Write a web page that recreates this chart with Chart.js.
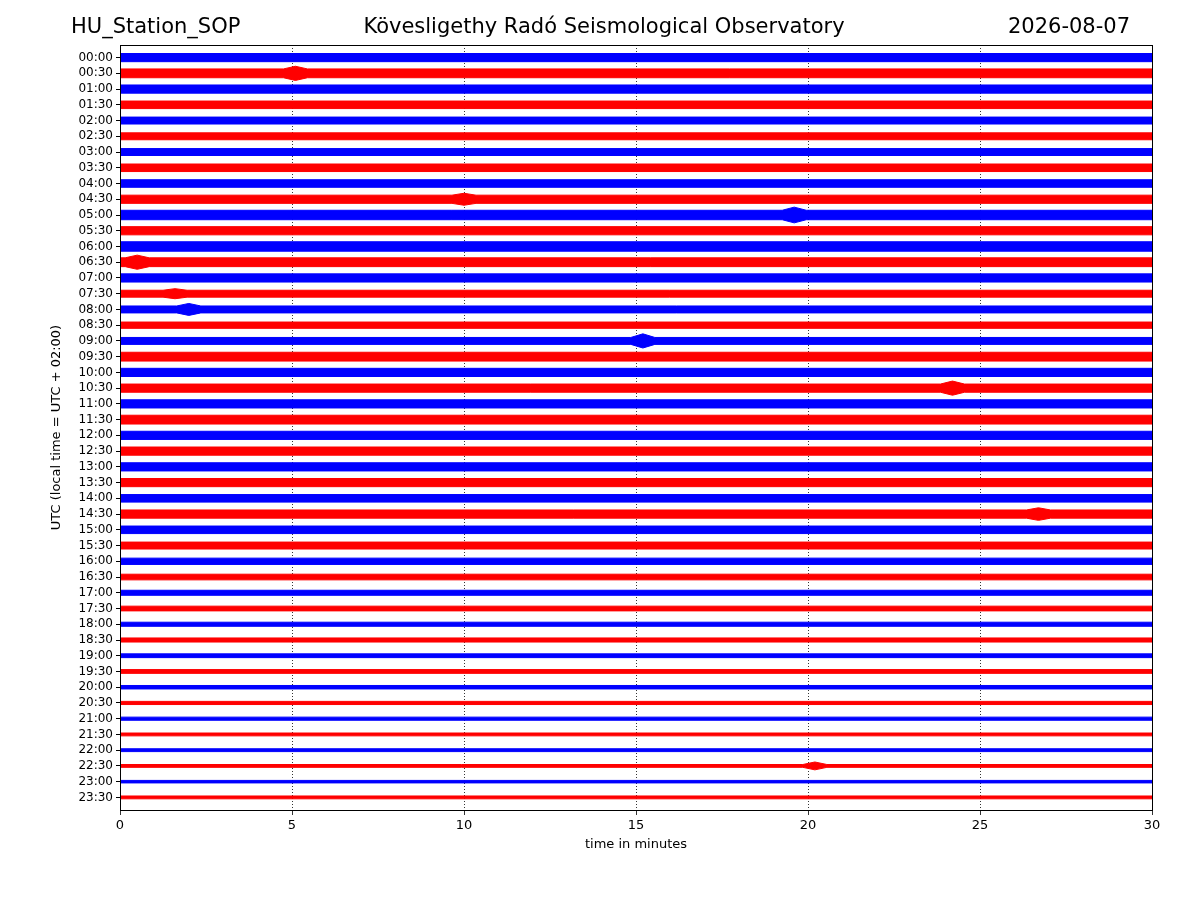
<!DOCTYPE html>
<html>
<head>
<meta charset="utf-8">
<script src="https://cdn.jsdelivr.net/npm/chart.js@4"></script>
<style>body{margin:0;background:#fff}</style>
</head>
<body>
<canvas id="heli" width="1200" height="900"></canvas>
<script>
// half-hour trace labels (UTC)
const traceLabels = [];
for (let h = 0; h < 24; h++) {
    const hh = String(h).padStart(2, '0');
    traceLabels.push(hh + ':00', hh + ':30');
}
// background noise amplitude per trace, in row units
const traceAmps = [
    0.26, 0.28, 0.26, 0.24, 0.22, 0.22, 0.22, 0.24,
    0.24, 0.26, 0.30, 0.26, 0.30, 0.28, 0.26, 0.22,
    0.22, 0.20, 0.22, 0.28, 0.26, 0.26, 0.26, 0.28,
    0.26, 0.26, 0.26, 0.26, 0.24, 0.26, 0.24, 0.22,
    0.20, 0.18, 0.16, 0.15, 0.13, 0.13, 0.12, 0.12,
    0.11, 0.10, 0.10, 0.09, 0.09, 0.09, 0.08, 0.09
];
// local bursts: trace index, minute, amplitude
const burstTrace = [1, 10, 13, 16, 18, 21, 29, 45, 9, 15];
const burstMin   = [5.1, 19.6, 0.5, 2.0, 15.2, 24.2, 26.7, 20.2, 10.0, 1.6];
const burstAmp   = [0.45, 0.50, 0.45, 0.38, 0.45, 0.45, 0.40, 0.25, 0.38, 0.32];
const xTicks = [0, 5, 10, 15, 20, 25, 30];

const datasets = [];
traceAmps.forEach(function(amp, i) {
    const color = i % 2 === 0 ? '#0000ff' : '#ff0000';
    const xs = [0, 30];
    const peaks = {};
    burstTrace.forEach(function(t, k) {
        if (t === i) {
            xs.push(burstMin[k] - 0.35, burstMin[k] + 0.35, burstMin[k]);
            peaks[burstMin[k]] = burstAmp[k];
        }
    });
    xs.sort(function(a, b) { return a - b; });
    const a = function(x) { return peaks[x] !== undefined ? peaks[x] : amp; };
    const common = { borderColor: color, backgroundColor: color, borderWidth: 1, pointRadius: 0, tension: 0 };
    datasets.push(Object.assign({ data: xs.map(x => ({ x: x, y: i - a(x) })), fill: false }, common));
    datasets.push(Object.assign({ data: xs.map(x => ({ x: x, y: i + a(x) })), fill: '-1' }, common));
});

const textPlugin = {
    id: 'texts',
    afterDraw(chart) {
        const c = chart.ctx, ca = chart.chartArea;
        c.save();
        c.fillStyle = '#000';
        c.font = '21px "DejaVu Sans"';
        c.textBaseline = 'middle';
        c.textAlign = 'left';
        c.fillText('HU_Station_SOP', 71, 28);
        c.textAlign = 'center';
        c.fillText('Kövesligethy Radó Seismological Observatory', 604, 28);
        c.textAlign = 'right';
        c.fillText('2026-08-07', 1130, 28);
        c.font = '13px "DejaVu Sans"';
        c.textAlign = 'center';
        c.fillText('time in minutes', (ca.left + ca.right) / 2, 845);
        c.translate(57, (ca.top + ca.bottom) / 2);
        c.rotate(-Math.PI / 2);
        c.fillText('UTC (local time = UTC + 02:00)', 0, 0);
        c.restore();
        c.save();
        c.strokeStyle = '#000';
        c.lineWidth = 1;
        c.strokeRect(ca.left + 0.5, ca.top + 0.5, ca.right - ca.left, ca.bottom - ca.top);
        c.restore();
    }
};

new Chart(document.getElementById('heli').getContext('2d'), {
    type: 'line',
    data: { datasets: datasets },
    options: {
        responsive: false,
        animation: false,
        layout: { padding: { top: 45, right: 48 } },
        plugins: { legend: { display: false }, tooltip: { enabled: false } },
        scales: {
            x: {
                type: 'linear', min: 0, max: 30,
                afterFit(s) { s.height = 90; },
                afterBuildTicks(s) { s.ticks = xTicks.map(v => ({ value: v })); },
                ticks: { color: '#000', font: { family: 'DejaVu Sans', size: 13 }, maxRotation: 0 },
                grid: {
                    color: ctx => (ctx.tick && ctx.tick.value > 0 && ctx.tick.value < 30) ? '#000' : 'rgba(0,0,0,0)',
                    tickColor: '#000', tickLength: 5, lineWidth: 0.8
                },
                border: { display: false, dash: [1, 2] }
            },
            y: {
                type: 'linear', reverse: true, min: -0.8, max: 47.8,
                afterFit(s) { s.width = 120; },
                afterBuildTicks(s) { s.ticks = traceLabels.map((l, i) => ({ value: i })); },
                ticks: {
                    color: '#000', font: { family: 'DejaVu Sans', size: 12 }, autoSkip: false,
                    callback: v => traceLabels[v]
                },
                grid: { drawOnChartArea: false, tickColor: '#000', tickLength: 4 },
                border: { display: false }
            }
        }
    },
    plugins: [textPlugin]
});
</script>
</body>
</html>
